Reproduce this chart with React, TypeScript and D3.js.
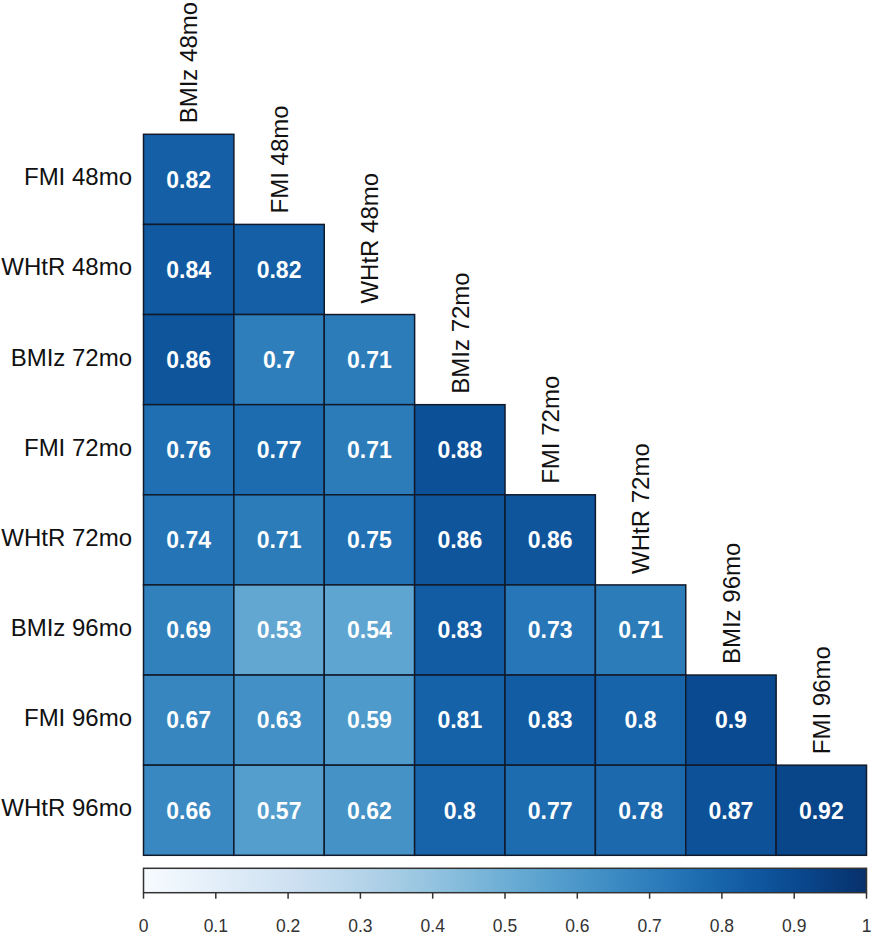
import React from "react";
import * as d3 from "d3";

const rowLabels = ["FMI 48mo", "WHtR 48mo", "BMIz 72mo", "FMI 72mo", "WHtR 72mo", "BMIz 96mo", "FMI 96mo", "WHtR 96mo"];
const colLabels = ["BMIz 48mo", "FMI 48mo", "WHtR 48mo", "BMIz 72mo", "FMI 72mo", "WHtR 72mo", "BMIz 96mo", "FMI 96mo"];

// lower-triangular correlation values, one array per row
const corrRows: number[][] = [
  [0.82],
  [0.84, 0.82],
  [0.86, 0.7, 0.71],
  [0.76, 0.77, 0.71, 0.88],
  [0.74, 0.71, 0.75, 0.86, 0.86],
  [0.69, 0.53, 0.54, 0.83, 0.73, 0.71],
  [0.67, 0.63, 0.59, 0.81, 0.83, 0.8, 0.9],
  [0.66, 0.57, 0.62, 0.8, 0.77, 0.78, 0.87, 0.92],
];

const legendTicks = [0, 0.1, 0.2, 0.3, 0.4, 0.5, 0.6, 0.7, 0.8, 0.9, 1];

const W = 873;
const H = 940;
const left = 143.5;
const right = 866.5;
const top = 134.3;
const bottom = 855.3;
const font = "'Liberation Sans', Arial, Helvetica, sans-serif";

export default function App() {
  const x = d3.scaleBand<string>().domain(colLabels).range([left, right]).padding(0);
  const y = d3.scaleBand<string>().domain(rowLabels).range([top, bottom]).padding(0);
  const color = d3.scaleSequential(d3.interpolateBlues).domain([0, 1]);
  const legendX = d3.scaleLinear().domain([0, 1]).range([left, right]);

  const cells = corrRows.flatMap((vals, r) =>
    vals.map((v, c) => ({ row: rowLabels[r], col: colLabels[c], v }))
  );

  const stops = d3.range(0, 1.0001, 0.05);
  const barTop = 868.3;
  const barH = 24.4;
  const bw = x.bandwidth();
  const bh = y.bandwidth();

  return (
    <svg
      width={W}
      height={H}
      style={{ position: "absolute", left: 0, top: 0, background: "#fff" }}
      fontFamily={font}
    >
      <defs>
        <linearGradient id="blues-grad" x1="0" x2="1" y1="0" y2="0">
          {stops.map((s) => (
            <stop key={s} offset={`${s * 100}%`} stopColor={color(s)} />
          ))}
        </linearGradient>
      </defs>

      {/* heatmap cells */}
      {cells.map((d) => (
        <g key={d.row + d.col}>
          <rect
            x={x(d.col)}
            y={y(d.row)}
            width={bw}
            height={bh}
            fill={color(d.v)}
            stroke="#111a2b"
            strokeWidth={1.5}
          />
          <text
            x={(x(d.col) as number) + bw / 2}
            y={(y(d.row) as number) + bh / 2 + 8.3}
            textAnchor="middle"
            fill="#fff"
            fontWeight="bold"
            fontSize={23}
          >
            {String(d.v)}
          </text>
        </g>
      ))}

      {/* row labels */}
      {rowLabels.map((r) => (
        <text
          key={r}
          x={left - 11.5}
          y={(y(r) as number) + bh / 2 + 6}
          textAnchor="end"
          fontSize={24}
          fill="#111"
        >
          {r}
        </text>
      ))}

      {/* column labels, placed above each column's topmost cell */}
      {colLabels.map((c, i) => {
        const cx = (x(c) as number) + bw / 2 + 8.8;
        const cy = (y(rowLabels[i]) as number) - 11;
        return (
          <text
            key={c}
            transform={`translate(${cx},${cy}) rotate(-90)`}
            textAnchor="start"
            fontSize={24}
            fill="#111"
          >
            {c}
          </text>
        );
      })}

      {/* colour legend */}
      <rect
        x={left}
        y={barTop}
        width={right - left}
        height={barH}
        fill="url(#blues-grad)"
        stroke="#333"
        strokeWidth={1.5}
      />
      {legendTicks.map((t) => (
        <g key={t}>
          <line
            x1={legendX(t)}
            x2={legendX(t)}
            y1={barTop + barH}
            y2={barTop + barH + 6}
            stroke="#333"
            strokeWidth={1.5}
          />
          <text
            x={legendX(t)}
            y={932}
            textAnchor="middle"
            fontSize={17.5}
            fill="#333"
          >
            {String(t)}
          </text>
        </g>
      ))}
    </svg>
  );
}
